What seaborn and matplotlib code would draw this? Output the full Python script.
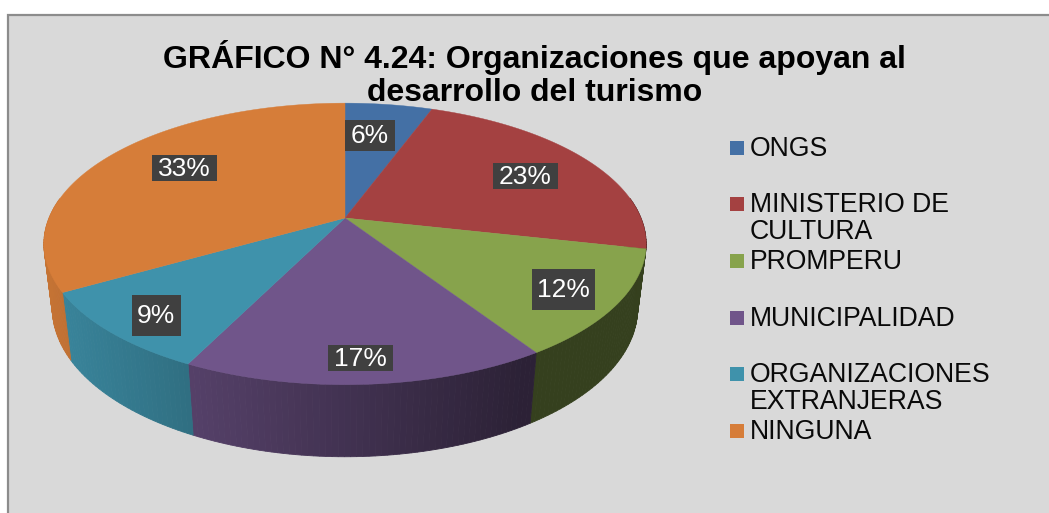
import numpy as np
import matplotlib
matplotlib.use("Agg")
import matplotlib.pyplot as plt
from matplotlib.patches import Rectangle
import seaborn as sns

sns.set_theme(style="white")
plt.rcParams['font.family'] = ['Liberation Sans', 'DejaVu Sans']

TITLE = "GRÁFICO N° 4.24: Organizaciones que apoyan al\ndesarrollo del turismo"
CATEGORIES = ["ONGS", "MINISTERIO DE\nCULTURA", "PROMPERU", "MUNICIPALIDAD",
              "ORGANIZACIONES\nEXTRANJERAS", "NINGUNA"]
# slice sizes as measured on the picture, the printed labels are rounded
VALUES = [5.6, 22.9, 12.3, 16.5, 9.4, 33.3]
LABELS = ["6%", "23%", "12%", "17%", "9%", "33%"]
COLORS = ["#4470A5", "#A44141", "#87A34C", "#70558A", "#3F92AB", "#D67D39"]

# label boxes: left, top, width, height, in pixels
LABEL_BOXES = [(345, 120, 50, 31), (493, 163, 65, 26), (532, 269, 63, 41),
               (328, 345, 65, 26), (132, 295, 49, 41), (152, 155, 65, 26)]
LEGEND_Y = [148, 204, 261, 318, 374, 431]

# perspective of the tilted disc
CX, CY = 345, 218
A, B, P = 296, 136, 0.184
DEPTH, SHRINK = 65.5, 0.028


def top_ring(theta):
    u, v = np.sin(theta), np.cos(theta)
    w = 1 + P * v
    return CX + A * u / w, CY - B * v / w


def bottom_ring(theta):
    u, v = np.sin(theta), np.cos(theta)
    w = 1 + P * v + SHRINK
    return CX + A * u / w, CY + (DEPTH - B * v) / w


def wall_shade(x):
    return max(0.39, 0.89 - (x - 70) * 0.0011)


palette = sns.color_palette(COLORS)
edges = np.radians(np.cumsum([0] + VALUES) / sum(VALUES) * 360)

fig = plt.figure(figsize=(10.49, 5.13), dpi=100, facecolor="white")
ax = fig.add_axes([0, 0, 1, 1])
ax.set_xlim(0, 1049)
ax.set_ylim(513, 0)
ax.axis("off")

# chart area, runs off the right and bottom of the image
ax.add_patch(Rectangle((8, 15), 1060, 520, facecolor="#D9D9D9", edgecolor="#8C8C8C", lw=1.6))

# side wall, cut in thin strips for the shading
for start, end, color in zip(edges[:-1], edges[1:], palette):
    cuts = np.linspace(start, end, max(int(np.degrees(end - start)), 2) + 1)
    for t0, t1 in zip(cuts[:-1], cuts[1:]):
        if np.cos((t0 + t1) / 2) > 0.15:
            continue
        tt = np.array([t0, t1])
        xt, yt = top_ring(tt)
        xb, yb = bottom_ring(tt)
        shaded = tuple(c * wall_shade(xt.mean()) for c in color)
        ax.fill([xt[0], xt[1], xb[1], xb[0]], [yt[0], yt[1], yb[1], yb[0]],
                color=shaded, lw=0.6, zorder=2)

# top of the disc
for start, end, color in zip(edges[:-1], edges[1:], palette):
    tt = np.linspace(start, end, 120)
    xt, yt = top_ring(tt)
    ax.fill(np.r_[CX, xt], np.r_[CY, yt], color=color, lw=0.3, zorder=3)

# data labels
for label, (left, top, width, height) in zip(LABELS, LABEL_BOXES):
    ax.add_patch(Rectangle((left, top), width, height, facecolor="#404040", edgecolor="none", zorder=4))
    ax.text(left + width / 2 - 0.5, top + height / 2 + 0.5, label, color="white", fontsize=19,
            ha="center", va="center", zorder=5)

# legend
for name, y, color in zip(CATEGORIES, LEGEND_Y, palette):
    ax.add_patch(Rectangle((730, y - 7), 14, 14, facecolor=color, edgecolor="none", zorder=4))
    ax.text(750, y - 12, name, color="#0A0A0A", fontsize=19.2, ha="left", va="top",
            linespacing=1.05, zorder=5)

ax.text(534.5, 74, TITLE, color="black", fontsize=23, fontweight="bold", ha="center", va="center",
        linespacing=1.16, zorder=6)

fig.savefig("out.png", dpi=100)
